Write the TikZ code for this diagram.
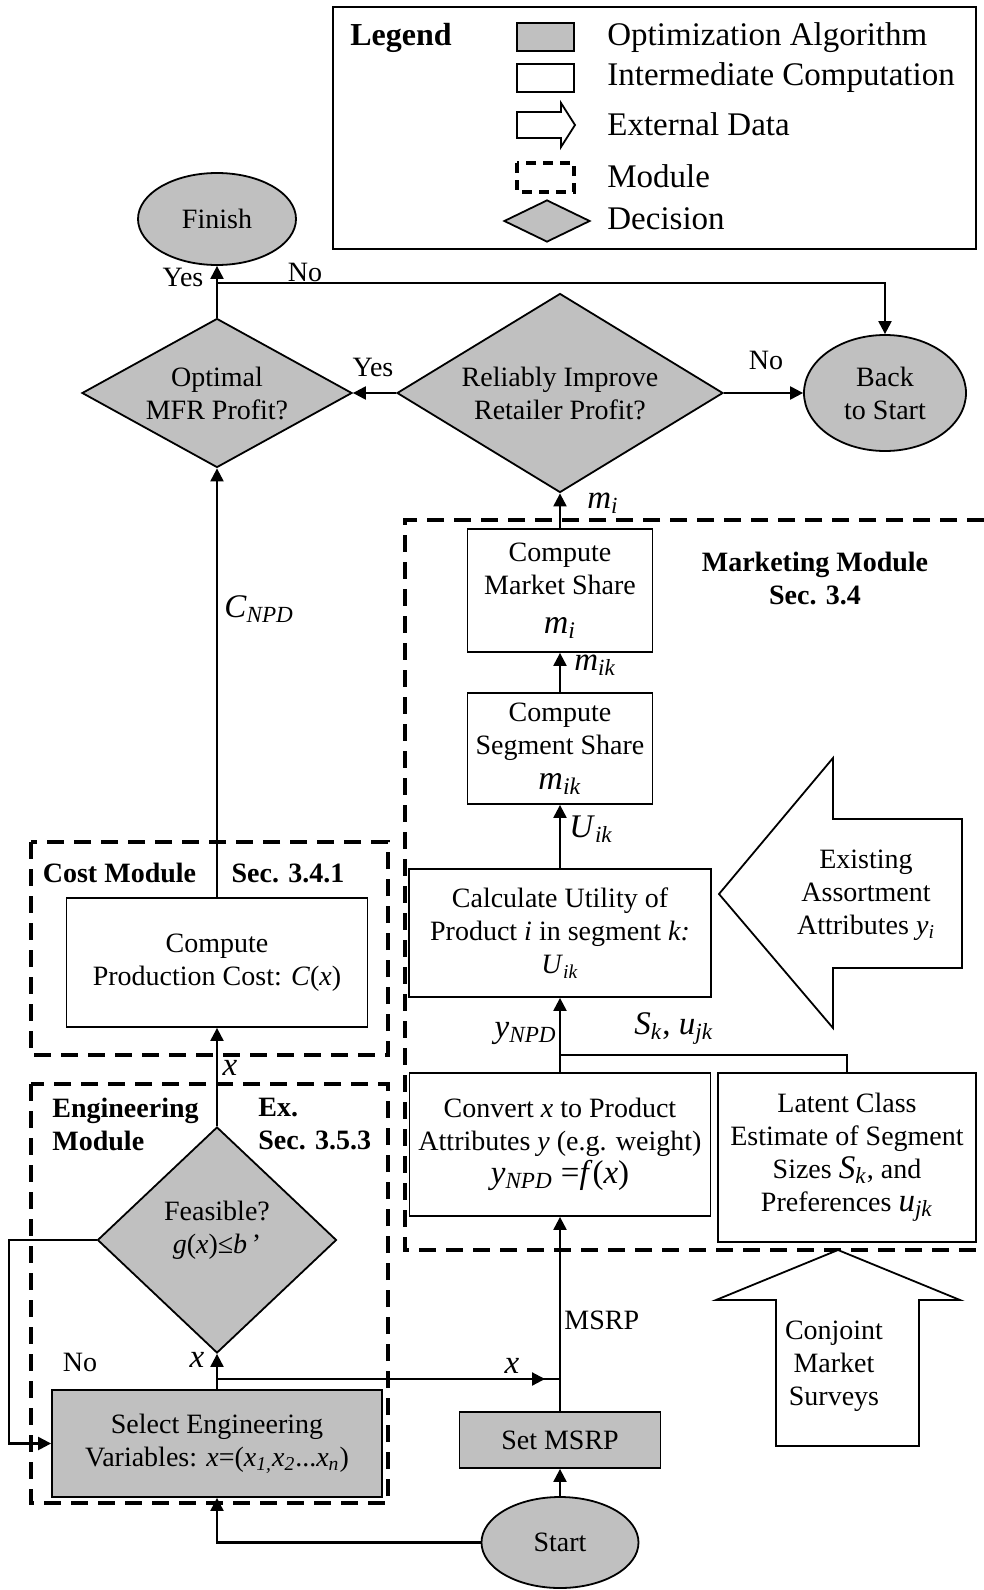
\documentclass[tikz,border=0pt]{standalone}
\usepackage{fontspec}
\setmainfont{Liberation Serif}
\usepackage{tikz}
\usetikzlibrary{shapes.geometric}
\usetikzlibrary{arrows.meta}
\definecolor{optgray}{RGB}{192,192,192}
\newcommand{\vsub}[2]{\textit{#1}\textsubscript{\textit{#2}}}

\begin{document}
\begin{tikzpicture}[x=0.5pt, y=-0.5pt, font=\fontsize{14}{16.5}\selectfont,
        proc/.style = {draw, fill=white, line width=0.9pt, align=center, inner sep=0pt},
        opt/.style = {proc, fill=optgray},
        dec/.style = {diamond, draw, fill=optgray, line width=0.9pt, align=center, inner sep=0pt},
        term/.style = {ellipse, draw, fill=optgray, line width=0.9pt, align=center, inner sep=0pt},
        module/.style = {line width=1.7pt, dash pattern=on 8.5pt off 5pt},
        flow/.style = {line width=1.1pt, -{Triangle[length=6.5pt,width=6.5pt]}},
        lbl/.style = {inner sep=0pt},
        bigvar/.style = {inner sep=0pt, font=\fontsize{16.5}{18}\selectfont},
        head/.style = {inner sep=0pt, font=\fontsize{14}{16.5}\selectfont\bfseries}]
        \useasboundingbox (0,0) rectangle (984,1590);
        \fill[white] (0,0) rectangle (984,1590);

        % legend
        \draw[line width=0.9pt] (333,7) rectangle (976,249);
        \node[lbl, font=\fontsize{16}{18}\selectfont\bfseries] (leghead) at (401,38) {Legend};
        \draw[line width=0.9pt, fill=optgray] (517,23) rectangle (574,51);
        \draw[line width=0.9pt] (517,64) rectangle (574,92);
        \draw[line width=0.9pt] (517,112) -- (561,112) -- (561,103) -- (575,125) -- (561,147)
                -- (561,138) -- (517,138) -- cycle;
        \draw[line width=1.6pt, dash pattern=on 5pt off 3.5pt] (517,163) rectangle (574,192);
        \node[dec, aspect=2, minimum width=43pt, minimum height=21pt] (legdec) at (547,221) {};
        \begin{scope}[font=\fontsize{16.5}{18}\selectfont]
                \node[lbl, anchor=west] (legopt) at (607,38) {Optimization Algorithm};
                \node[lbl, anchor=west] (legint) at (607,78) {Intermediate Computation};
                \node[lbl, anchor=west] (legext) at (607,124) {External Data};
                \node[lbl, anchor=west] (legmod) at (607,176) {Module};
                \node[lbl, anchor=west] (legdecl) at (607,219) {Decision};
        \end{scope}

        % modules
        \draw[module] (31,842) rectangle (388,1055);
        \draw[module] (31,1084) rectangle (388,1503);
        \draw[module] (984,520) -- (405,520) -- (405,1250) -- (984,1250);
        \node[head, anchor=base] (costlbl) at (119.5,882) {Cost Module};
        \node[head, anchor=base] (costsec) at (288,882) {Sec. 3.4.1};
        \node[head, anchor=west, align=left] (englbl) at (52,1124) {Engineering\\Module};
        \node[head, anchor=west, align=left] (engsec) at (258,1124) {Ex.\\Sec. 3.5.3};
        \node[head, align=center] (mktlbl) at (815,578) {Marketing Module\\Sec. 3.4};

        % external data
        \draw[line width=0.9pt, fill=white] (719,894) -- (833,758) -- (833,819) -- (962,819)
                -- (962,968) -- (833,968) -- (833,1028) -- cycle;
        \node[lbl, align=center] (existing) at (866,895) {Existing\\Assortment\\Attributes \vsub{y}{i}};
        \draw[line width=0.9pt, fill=white] (838,1250) -- (960,1300) -- (919,1300) -- (919,1446)
                -- (776,1446) -- (776,1300) -- (716,1300) -- cycle;
        \node[lbl, align=center] (conjoint) at (834,1366) {Conjoint\\Market\\Surveys};

        % flow nodes
        \node[term, minimum width=79pt, minimum height=46pt] (finish) at (217,219) {Finish};
        \node[dec, aspect=1.81, minimum width=135pt, minimum height=74.5pt] (optimal) at (217,393) {Optimal\\MFR Profit?};
        \node[dec, aspect=1.64, minimum width=163pt, minimum height=99.5pt] (reliable) at (560,393) {Reliably Improve\\Retailer Profit?};
        \node[term, minimum width=81pt, minimum height=58pt] (back) at (885,393) {Back\\to Start};
        \node[proc, minimum width=92.5pt, minimum height=61.5pt] (market) at (560,590.5)
                {Compute\\Market Share\\[3pt]{\fontsize{17}{17}\selectfont\vsub{m}{i}}};
        \node[proc, minimum width=92.5pt, minimum height=55.5pt] (segment) at (560,748.5)
                {Compute\\Segment Share\\[1pt]{\fontsize{17}{17}\selectfont\vsub{m}{ik}}};
        \node[proc, minimum width=151pt, minimum height=64pt] (calc) at (560,933)
                {Calculate Utility of\\Product \textit{i} in segment \textit{k:}\\\vsub{U}{ik}};
        \node[proc, minimum width=150.5pt, minimum height=71.5pt] (convert) at (560,1144.5)
                {Convert \textit{x} to Product\\Attributes \textit{y} (e.g. weight)\\{\fontsize{16.5}{18}\selectfont\vsub{y}{NPD} =\textit{f}(\textit{x})}};
        \node[proc, minimum width=129pt, minimum height=84.5pt] (latent) at (847,1157.5)
                {Latent Class\\Estimate of Segment\\Sizes {\fontsize{16.5}{18}\selectfont\vsub{S}{k}}, and\\Preferences {\fontsize{16.5}{18}\selectfont\vsub{u}{jk}}};
        \node[proc, minimum width=150.5pt, minimum height=64.5pt] (cost) at (217,962.5)
                {Compute\\Production Cost: \textit{C}(\textit{x})};
        \node[dec, aspect=1.06, minimum width=119.5pt, minimum height=113pt] (feasible) at (217,1240)
                {Feasible?\\\textit{g}(\textit{x})≤\textit{b}\,’\\[-4pt]\mbox{}};
        \node[opt, minimum width=165pt, minimum height=53.5pt] (select) at (217,1443.5)
                {Select Engineering\\Variables: \textit{x}=(\textit{x}\textsubscript{\textit{1,}}\textit{x}\textsubscript{\textit{2}}...\textit{x}\textsubscript{\textit{n}})};
        \node[opt, minimum width=100.5pt, minimum height=28pt] (setmsrp) at (560,1440) {Set MSRP};
        \node[term, minimum width=78.5pt, minimum height=45.5pt] (start) at (560,1542.5) {Start};

        % connectors
        \coordinate (fork) at (217,283);
        \draw[flow] (optimal.north) -- (finish.south);
        \draw[flow] (fork) -| (back.north);
        \draw[flow] (reliable.west) -- (optimal.east);
        \draw[flow] (reliable.east) -- (back.west);
        \draw[flow] (market.north) -- (reliable.south);
        \draw[flow] (segment.north) -- (market.south);
        \draw[flow] (calc.north) -- (segment.south);
        \draw[flow] (convert.north) -- (calc.south);
        \coordinate (skjoin) at (560,1055);
        \draw[line width=1.1pt] (latent.north) |- (skjoin);
        \draw[flow] (setmsrp.north) -- (convert.south);
        \draw[flow] (start.north) -- (setmsrp.south);
        \draw[flow] (start.west) -| (select.south);
        \draw[flow] (select.north) -- (feasible.south);
        \coordinate (xsplit) at (217,1379);
        \coordinate (xjoin) at (560,1379);
        \coordinate (xtip) at (545,1379);
        \draw[line width=1.1pt] (xsplit) -- (xjoin);
        \draw[flow] (xsplit) -- (xtip);
        \draw[flow] (feasible.west) -- ++(-88,0) |- (select.west);
        \draw[flow] (feasible.north) -- (cost.south);
        \draw[flow] (cost.north) -- (optimal.south);

        % labels
        \node[lbl] (yes1) at (183,277) {Yes};
        \node[lbl] (no1) at (305,272) {No};
        \node[lbl] (yes2) at (373,367) {Yes};
        \node[lbl] (no2) at (766,360) {No};
        \node[lbl] (no3) at (80,1362) {No};
        \node[bigvar] (mi) at (603,503) {\vsub{m}{i}};
        \node[bigvar, anchor=base west] (mik) at (574,670) {\vsub{m}{ik}};
        \node[bigvar, anchor=base west] (uik) at (569,837) {\vsub{U}{ik}};
        \node[bigvar, anchor=base east] (ynpd) at (557,1037) {\vsub{y}{NPD}};
        \node[bigvar, anchor=base west] (sk) at (634,1034) {\vsub{S}{k}, \vsub{u}{jk}};
        \node[bigvar, anchor=west] (cnpd) at (224,609) {\vsub{C}{NPD}};
        \node[bigvar] (x1) at (230,1068) {\textit{x}};
        \node[bigvar] (x2) at (197,1360) {\textit{x}};
        \node[bigvar] (x3) at (512,1366) {\textit{x}};
        \node[lbl, anchor=base west] (msrp) at (564,1329) {MSRP};
\end{tikzpicture}
\end{document}
